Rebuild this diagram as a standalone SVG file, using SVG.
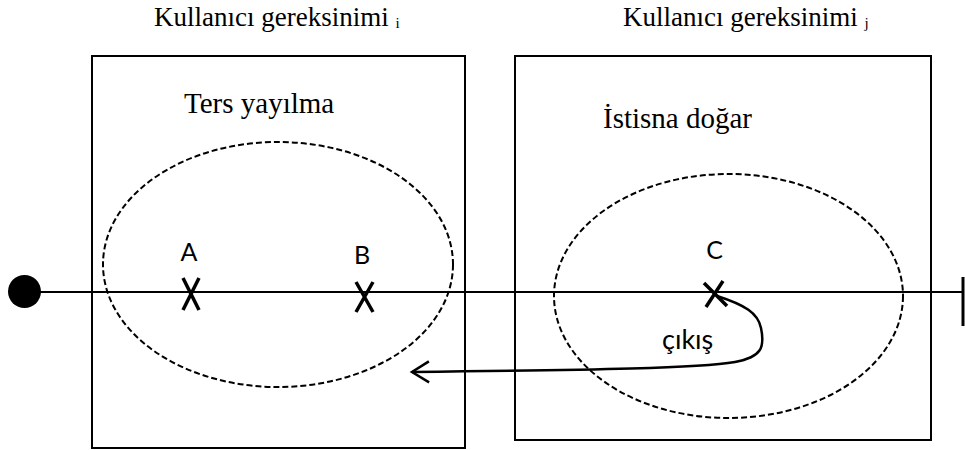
<svg xmlns="http://www.w3.org/2000/svg" width="965" height="450" viewBox="0 0 965 450">
  <style>
    .box { fill: none; stroke: #000; stroke-width: 2; }
    .scope { fill: none; stroke: #000; stroke-width: 2; stroke-dasharray: 6 3; }
    .serif { font-family: "Liberation Serif", "Times New Roman", serif; fill: #000; }
    .sans { font-family: Lato, "Open Sans", sans-serif; fill: #000; }
    .mark { stroke: #000; stroke-width: 3.5; fill: none; }
    .line { stroke: #000; stroke-width: 2; fill: none; }
  </style>
  <defs>
    <marker id="openArrow" markerUnits="userSpaceOnUse" viewBox="-20 -12 22 24" markerWidth="22" markerHeight="24" refX="0" refY="0" orient="auto" overflow="visible">
      <path d="M -17 -10.5 L 0 0 L -17 10.5" fill="none" stroke="#000" stroke-width="2.5"/>
    </marker>
  </defs>

  <rect width="965" height="450" fill="#fff"/>

  <!-- top labels -->
  <g id="label-i">
    <text class="serif" x="154" y="26" font-size="27">Kullanıcı gereksinimi <tspan font-size="15" dy="2">i</tspan></text>
  </g>
  <g id="label-j">
    <text class="serif" x="623" y="26" font-size="27">Kullanıcı gereksinimi <tspan font-size="15" dy="2">j</tspan></text>
  </g>

  <!-- connectors -->
  <g id="connectors">
    <line class="line" x1="40" y1="292" x2="963" y2="292"/>
    <path id="exit" d="M 717 296 C 745 305, 758 313, 761 328 C 765 347, 762 357, 735 362 C 700 368, 600 370, 412 372" fill="none" stroke="#000" stroke-width="2.5" marker-end="url(#openArrow)"/>
  </g>

  <!-- start node -->
  <g id="start">
    <circle cx="24.5" cy="291.5" r="16.5" fill="#000"/>
  </g>

  <!-- box i -->
  <g id="box-i">
    <rect class="box" x="92" y="56" width="373" height="392"/>
    <text class="serif" x="184" y="113" font-size="29">Ters yayılma</text>
    <ellipse class="scope" cx="278" cy="264.5" rx="175" ry="122.5"/>
  </g>

  <!-- box j -->
  <g id="box-j">
    <rect class="box" x="515" y="56" width="416" height="384"/>
    <text class="serif" x="603" y="128" font-size="29">İstisna doğar</text>
    <ellipse class="scope" cx="728.5" cy="296" rx="174.5" ry="122"/>
  </g>

  <!-- points -->
  <g id="point-A">
    <text class="sans" x="189" y="261" font-size="25" text-anchor="middle">A</text>
    <path class="mark" d="M 183 278 L 199 310 M 199 278 L 183 310"/>
  </g>
  <g id="point-B">
    <text class="sans" x="362" y="264" font-size="25" text-anchor="middle">B</text>
    <path class="mark" d="M 356 282 L 373 312 M 373 282 L 356 312"/>
  </g>
  <g id="point-C">
    <text class="sans" x="714.5" y="259" font-size="25" text-anchor="middle">C</text>
    <path class="mark" d="M 704 283 L 727 306 M 723 281 L 706 307"/>
  </g>

  <g id="exit-label">
    <text class="sans" x="662" y="349" font-size="27">çıkış</text>
  </g>

  <!-- end node -->
  <g id="end">
    <line x1="963" y1="277" x2="963" y2="326" stroke="#000" stroke-width="3"/>
  </g>
</svg>
